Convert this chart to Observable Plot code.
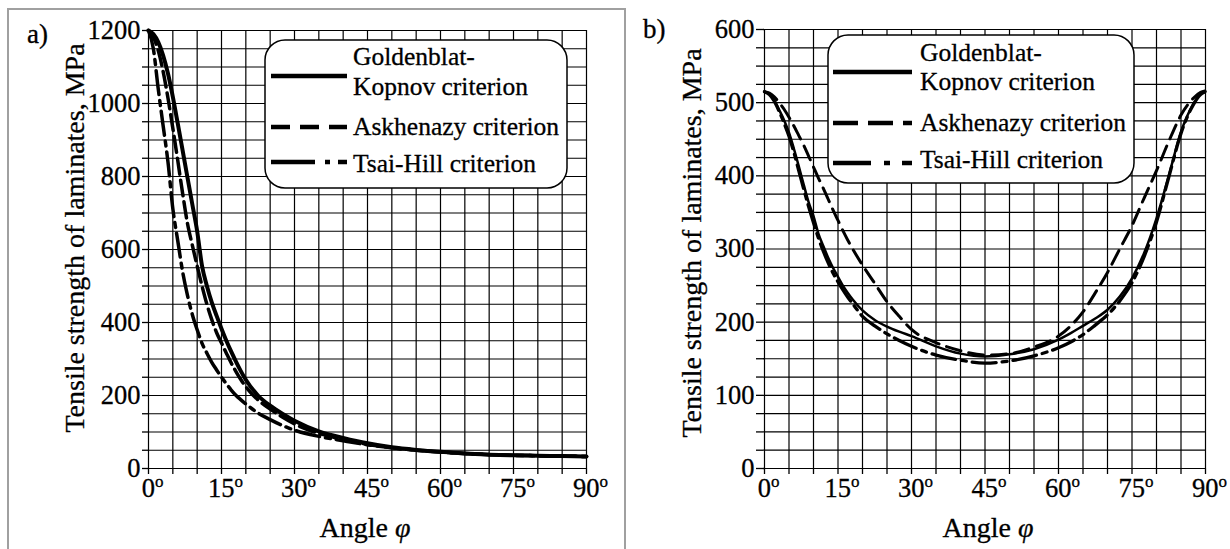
<!DOCTYPE html>
<html><head><meta charset="utf-8">
<script src="https://cdn.jsdelivr.net/npm/d3@7"></script>
<script src="https://cdn.jsdelivr.net/npm/@observablehq/plot@0.6"></script>
<style>
html,body{margin:0;padding:0;background:#fff;}
#wrap{position:relative;width:1230px;height:549px;overflow:hidden;font-family:"Liberation Serif",Tinos,"Times New Roman",Times,"DejaVu Serif",serif;}
#wrap svg{position:absolute;top:0;}
#wrap svg text{font-family:"Liberation Serif",Tinos,"Times New Roman",Times,"DejaVu Serif",serif !important;stroke:#000;stroke-width:0.3px;}
#frame{position:absolute;left:7px;top:8px;width:619px;height:600px;border:2px solid #a0a0a0;box-sizing:border-box;pointer-events:none;}
</style></head><body><div id="wrap"><div id="frame"></div></div>
<script>
// ---------- DATA ----------
const seriesNames = ["Goldenblat-Kopnov criterion", "Askhenazy criterion", "Tsai-Hill criterion"];
const angleTicks = [0,5,10,15,20,25,30,35,40,45,50,55,60,65,70,75,80,85,90];
const angleLabels = [0,15,30,45,60,75,90];
const yTicksA = [0,50,100,150,200,250,300,350,400,450,500,550,600,650,700,750,800,850,900,950,1000,1050,1100,1150,1200];
const yLabelsA = [0,200,400,600,800,1000,1200];
const yTicksB = [0,25,50,75,100,125,150,175,200,225,250,275,300,325,350,375,400,425,450,475,500,525,550,575,600];
const yLabelsB = [0,100,200,300,400,500,600];

// panel a)
const angA = [0,1,2,3,4,5,6,7,8,9,10,11,12,13,14,15,16,17,18,19,20,22.5,25,27.5,30,35,40,45,50,55,60,65,70,75,80,85,90];
const gkA  = [1200,1190,1168,1132,1082,1018,946,872,798,724,650,555,500,455,418,383,350,320,292,266,243,200,172,150,131,102,84,69,58,51,46,41,38,36,35,34,33];
const askA = [1200,1182,1145,1088,1015,932,845,755,672,612,555,500,450,408,372,344,316,289,265,243,224,188,163,141,122,96,80,66,57,50,45,41,38,36,35,34,33];
const thA  = [1200,1150,1040,940,840,712,625,540,475,422,380,343,316,291,270,250,232,215,200,188,177,152,134,118,105,88,76,65,57,50,45,41,38,36,35,34,33];

// panel b)
const angB = [0,1,2,3,4,5,6,7,8,9,10,11,12,13,14,15,16,17,18,20,22.5,25,27.5,30,35,40,45,50,55,60,62.5,65,67.5,70,72.5,75,77.5,80,82.5,85,87.5,89,90];
const gkB  = [515,512,503,490,476,459,437,413,388,364,345,321,304,288,274,262,250,240,231,216,203,194,187,181,167,157,153,156,163,176,185,195,205,217,235,260,295,342,400,460,498,512,515];
const askB = [515,513,508,500,491,480,468,455,442,427,412,397,383,368,353,339,325,312,300,278,253,228,208,190,172,161,155,157,166,181,195,214,240,268,300,332,370,407,447,483,506,514,516];
const thB  = [515,511,502,488,472,454,432,407,382,358,336,315,297,281,267,255,244,234,225,208,195,184,175,167,155,148,144,147,154,165,173,183,196,210,229,254,290,337,398,458,497,511,515];

// ---------- DRAW ----------
const FONT = '"Liberation Serif",Tinos,"Times New Roman",Times,"DejaVu Serif",serif';
const wrap = document.getElementById("wrap");

function rows(ang, vals) { return ang.map((a, i) => ({a, v: vals[i]})); }

function panel(o) {
  const gridStyle = {stroke: "#000", strokeOpacity: 1, strokeWidth: 1.2};
  const svg = Plot.plot({
    width: 615, height: 549,
    marginLeft: o.ml, marginRight: o.mr, marginTop: o.mt, marginBottom: 81,
    x: {domain: [0, 90]},
    y: {domain: [0, o.yMax]},
    style: {fontFamily: FONT, fontSize: "26.5px", color: "#000", background: "transparent", overflow: "visible"},
    marks: [
      Plot.gridX(angleTicks, gridStyle),
      Plot.gridY(o.yTicks, gridStyle),
      Plot.axisY(o.yTicks, {tickSize: o.tick, tickPadding: 2, strokeWidth: 1.3, label: null,
        tickFormat: d => o.yLabels.includes(d) ? String(d) : ""}),
      Plot.axisX(angleTicks, {tickSize: 6, tickPadding: 4, strokeWidth: 1.3, label: null,
        tickFormat: d => angleLabels.includes(d) ? String(d) : ""}),
      Plot.line(rows(o.ang, o.gk), {x: "a", y: "v", stroke: "#000", strokeWidth: o.w[0], curve: "monotone-x"}),
      Plot.line(rows(o.ang, o.ask), {x: "a", y: "v", stroke: "#000", strokeWidth: o.w[1], strokeDasharray: o.dash[1], curve: "monotone-x"}),
      Plot.line(rows(o.ang, o.th), {x: "a", y: "v", stroke: "#000", strokeWidth: o.w[2], strokeDasharray: o.dash[2], curve: "monotone-x"})
    ]
  });
  svg.style.left = o.left + "px";
  const s = d3.select(svg);
  // superscript degree "o"
  s.selectAll('g[aria-label="x-axis tick label"] text').each(function() {
    const t = d3.select(this);
    const txt = t.text();
    if (!txt) return;
    t.text(txt).attr("dx", 4);
    t.append("tspan").attr("font-size", "17px").attr("dy", "-10").text("o");
  });
  // legend
  const L = o.leg;
  const g = s.append("g").attr("font-family", FONT).attr("font-size", "25.5px").attr("text-anchor", "start");
  g.append("rect").attr("x", L.x).attr("y", L.y).attr("width", L.w).attr("height", L.h)
    .attr("rx", 20).attr("ry", 20).attr("fill", "#fff").attr("stroke", "#000").attr("stroke-width", 1.5);
  const samples = [[L.s[0], null], [L.s[1], L.ld[1]], [L.s[2], L.ld[2]]];
  samples.forEach(([yy, da]) => {
    const ln = g.append("line").attr("x1", L.sx1).attr("x2", L.sx2).attr("y1", yy).attr("y2", yy)
      .attr("stroke", "#000").attr("stroke-width", 4.5);
    if (da) ln.attr("stroke-dasharray", da);
  });
  const texts = ["Goldenblat-", "Kopnov criterion", seriesNames[1], seriesNames[2]];
  texts.forEach((tx, i) => g.append("text").attr("x", L.tx).attr("y", L.t[i]).text(tx));
  // titles
  s.append("text").attr("x", o.tag[0]).attr("y", o.tag[1]).attr("text-anchor", "start")
    .attr("font-family", FONT).attr("font-size", "27px").text(o.tagText);
  s.append("text").attr("transform", `translate(${o.yt[0]},${o.yt[1]}) rotate(-90)`).attr("text-anchor", "middle")
    .attr("font-family", FONT).attr("font-size", "28px").text("Tensile strength of laminates, MPa");
  const xt = s.append("text").attr("x", o.xt[0]).attr("y", o.xt[1]).attr("text-anchor", "middle")
    .attr("font-family", FONT).attr("font-size", "28px").text("Angle ");
  xt.append("tspan").attr("font-style", "italic").text("φ");
  wrap.insertBefore(svg, document.getElementById("frame"));
}

panel({
  left: 0, ml: 148, mr: 29, mt: 30, yMax: 1200, yTicks: yTicksA, yLabels: yLabelsA, tick: 6,
  ang: angA, gk: gkA, ask: askA, th: thA,
  w: [4, 3.5, 3.5], dash: [null, "16,6", "24,6,5,6"],
  leg: {x: 265, y: 40, w: 302, h: 148, sx1: 271, sx2: 347, s: [76, 127, 162], ld: [null, "19,10", "44,10,5,8,12"],
        tx: 353, t: [65, 95, 135, 172]},
  tag: [27, 43], tagText: "a)", yt: [84, 238], xt: [365, 537]
});
panel({
  left: 615, ml: 149, mr: 25, mt: 29, yMax: 600, yTicks: yTicksB, yLabels: yLabelsB, tick: 8,
  ang: angB, gk: gkB, ask: askB, th: thB,
  w: [2.5, 3, 3.3], dash: [null, "15,8", "24,6,5,6"],
  leg: {x: 213, y: 35, w: 306, h: 148, sx1: 218, sx2: 297, s: [72, 123, 163], ld: [null, "25,10", "38,13,6,12"],
        tx: 305, t: [61, 90, 131, 168]},
  tag: [28, 38], tagText: "b)", yt: [86, 243], xt: [373, 537]
});
</script></body></html>
